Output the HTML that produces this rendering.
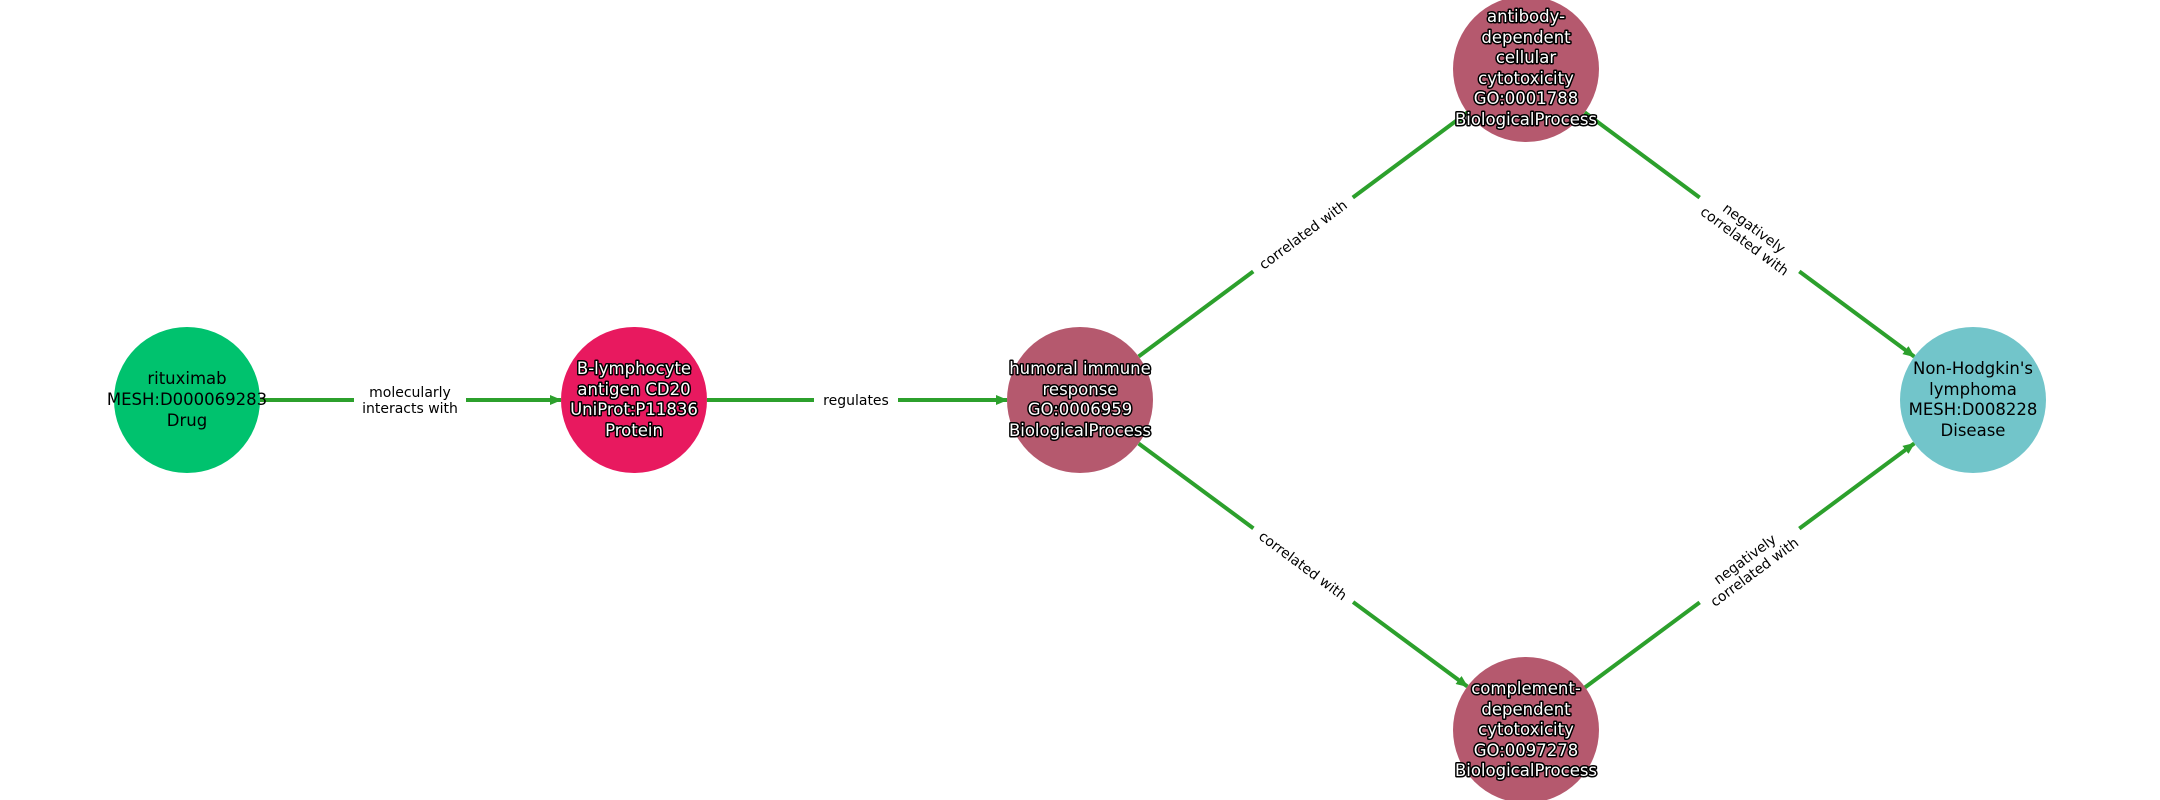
<!DOCTYPE html>
<html><head><meta charset="utf-8"><style>
html,body{margin:0;padding:0;background:#fff;}
svg{display:block;}
.n{font-family:"DejaVu Sans","Liberation Sans",sans-serif;font-size:16.5px;text-anchor:middle;}
.w{fill:#fff;stroke:#000;stroke-width:3px;paint-order:stroke;stroke-linejoin:round;}
.b{fill:#000;}
.l{font-family:"DejaVu Sans","Liberation Sans",sans-serif;font-size:14px;text-anchor:middle;fill:#000;}
.e{stroke:#2ca02c;stroke-width:4;fill:none;marker-end:url(#a);}
</style></head><body>
<svg width="2160" height="800" viewBox="0 0 2160 800" xmlns="http://www.w3.org/2000/svg">
<defs><marker id="a" markerUnits="userSpaceOnUse" markerWidth="12" markerHeight="10" refX="11" refY="5" orient="auto"><path d="M0,0 L12,5 L0,10 z" fill="#2ca02c"/></marker></defs>
<line class="e" x1="260" y1="400" x2="561" y2="400"/>
<line class="e" x1="707" y1="400" x2="1007" y2="400"/>
<line class="e" x1="1138.6" y1="356.5" x2="1467.4" y2="112.5"/>
<line class="e" x1="1138.6" y1="443.5" x2="1467.4" y2="686.5"/>
<line class="e" x1="1584.7" y1="112.4" x2="1914.3" y2="356.6"/>
<line class="e" x1="1584.7" y1="687.6" x2="1914.3" y2="443.4"/>

<g transform="translate(410,400)"><rect x="-56" y="-20" width="112" height="40" fill="#fff"/><text class="l" y="-3">molecularly</text><text class="l" y="13">interacts with</text></g>
<g transform="translate(856,400)"><rect x="-42" y="-11" width="84" height="22" fill="#fff"/><text class="l" y="5">regulates</text></g>
<g transform="translate(1303,234.5) rotate(-36.6)"><rect x="-62" y="-11" width="124" height="22" fill="#fff"/><text class="l" y="5">correlated with</text></g>
<g transform="translate(1303,565.5) rotate(36.6)"><rect x="-62" y="-11" width="124" height="22" fill="#fff"/><text class="l" y="5">correlated with</text></g>
<g transform="translate(1749.5,234.5) rotate(36.5)"><rect x="-62" y="-20" width="124" height="40" fill="#fff"/><text class="l" y="-3">negatively</text><text class="l" y="13">correlated with</text></g>
<g transform="translate(1749.5,565.5) rotate(-36.5)"><rect x="-62" y="-20" width="124" height="40" fill="#fff"/><text class="l" y="-3">negatively</text><text class="l" y="13">correlated with</text></g>

<circle cx="187" cy="400" r="73" fill="#00c26e"/>
<circle cx="634" cy="400" r="73" fill="#e8195f"/>
<circle cx="1080" cy="400" r="73" fill="#b5596e"/>
<circle cx="1526" cy="69" r="73" fill="#b5596e"/>
<circle cx="1526" cy="730" r="73" fill="#b5596e"/>
<circle cx="1973" cy="400" r="73" fill="#72c5ca"/>

<g class="n b"><text x="187" y="384">rituximab</text><text x="187" y="405">MESH:D000069283</text><text x="187" y="426">Drug</text></g>
<g class="n w"><text x="634" y="374">B-lymphocyte</text><text x="634" y="395">antigen CD20</text><text x="634" y="415">UniProt:P11836</text><text x="634" y="436">Protein</text></g>
<g class="n w"><text x="1080" y="374">humoral immune</text><text x="1080" y="395">response</text><text x="1080" y="415">GO:0006959</text><text x="1080" y="436">BiologicalProcess</text></g>
<g class="n w"><text x="1526" y="22">antibody-</text><text x="1526" y="43">dependent</text><text x="1526" y="63">cellular</text><text x="1526" y="84">cytotoxicity</text><text x="1526" y="104">GO:0001788</text><text x="1526" y="125">BiologicalProcess</text></g>
<g class="n w"><text x="1526" y="694">complement-</text><text x="1526" y="715">dependent</text><text x="1526" y="735">cytotoxicity</text><text x="1526" y="756">GO:0097278</text><text x="1526" y="776">BiologicalProcess</text></g>
<g class="n b"><text x="1973" y="374">Non-Hodgkin's</text><text x="1973" y="395">lymphoma</text><text x="1973" y="415">MESH:D008228</text><text x="1973" y="436">Disease</text></g>
</svg>
</body></html>
